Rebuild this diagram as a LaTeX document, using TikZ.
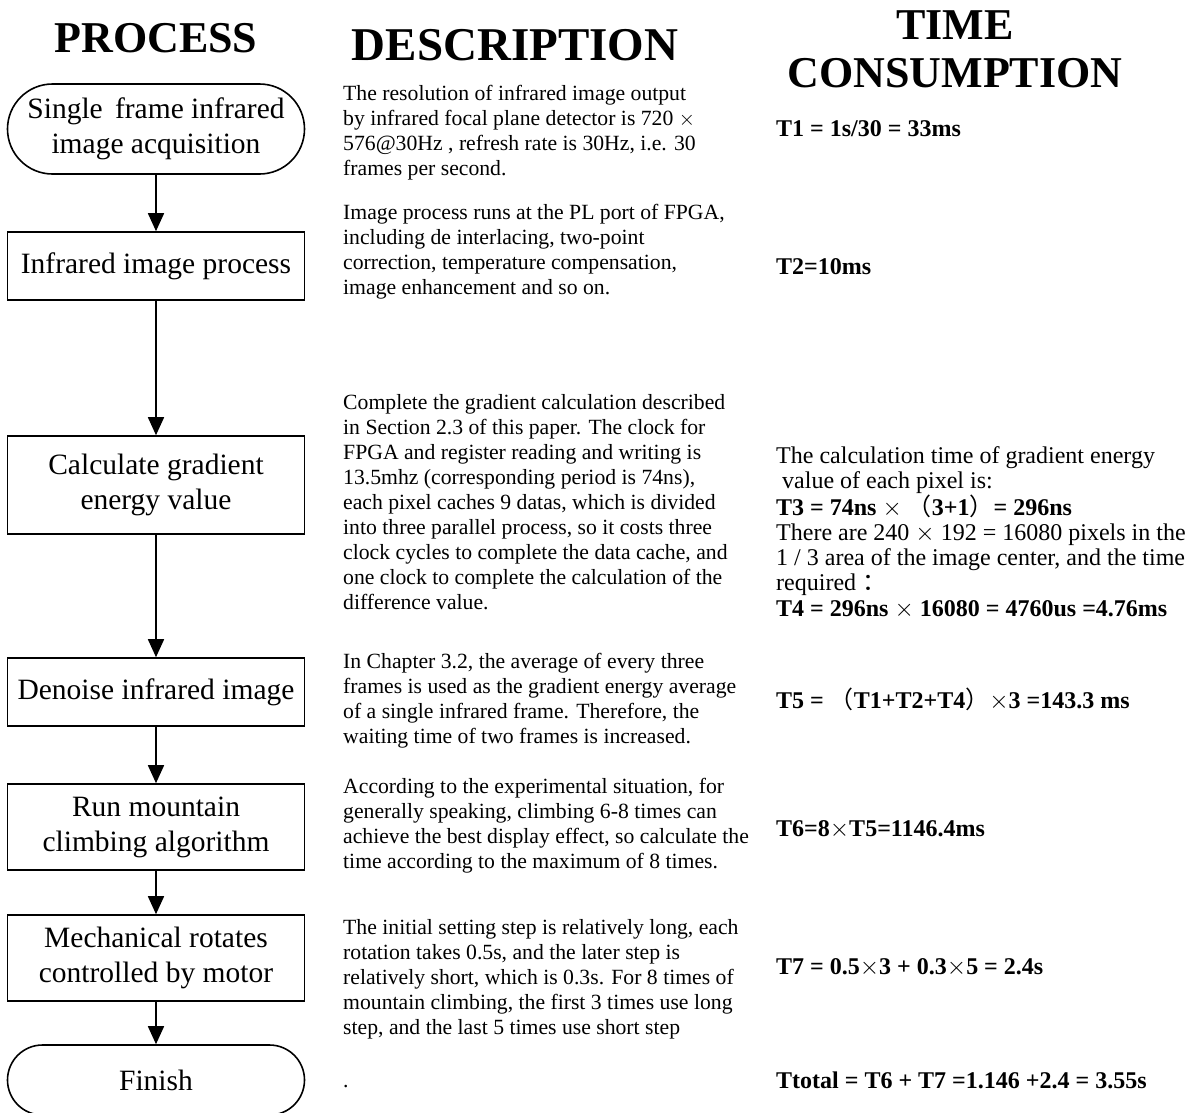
\documentclass[tikz,border=0pt]{standalone}
\usepackage{fontspec}
\setmainfont{Liberation Serif}
\newfontfamily\cjk{Noto Sans CJK SC}
\usetikzlibrary{arrows.meta}
\newcommand{\lp}{{\cjk\mdseries （}}
\newcommand{\rp}{{\cjk\mdseries ）}}
\begin{document}
\begin{tikzpicture}[x=1pt,y=-1pt,
  heading/.style={font=\bfseries\fontsize{44}{48}\selectfont, align=center, inner sep=0},
  procbox/.style={draw, line width=1.6, rectangle, minimum width=297, align=center, inner sep=0,
                  font=\fontsize{29.5}{35}\selectfont},
  termbox/.style={procbox, rounded corners=#1},
  desc/.style={anchor=north west, align=left, inner sep=0, font=\fontsize{21.7}{25}\selectfont},
  tcons/.style={anchor=north west, align=left, inner sep=0, font=\fontsize{24}{25.3}\selectfont},
  flow/.style={line width=1.6, -{Triangle[width=16,length=18]}}]
\useasboundingbox (0,0) rectangle (1192,1112);

% headings
\node[heading] (hproc) at (156,38) {PROCESS};
\node[heading, font=\bfseries\fontsize{47}{50}\selectfont] (hdesc) at (515,45) {DESCRIPTION};
\node[heading] (htime) at (955,49) {TIME\\CONSUMPTION};

% process column
\node[termbox=45, minimum height=90] (p1) at (156,129) {Single\, frame infrared\\image acquisition};
\node[procbox, minimum height=68] (p2) at (156,266) {Infrared image process};
\node[procbox, minimum height=98] (p3) at (156,485) {Calculate gradient\\energy value};
\node[procbox, minimum height=68] (p4) at (156,692) {Denoise infrared image};
\node[procbox, minimum height=86] (p5) at (156,827) {Run mountain\\climbing algorithm};
\node[procbox, minimum height=86] (p6) at (156,958) {Mechanical rotates\\controlled by motor};
\node[termbox=35, minimum height=70] (p7) at (156,1080) {Finish};

\draw[flow] (p1) -- (p2);
\draw[flow] (p2) -- (p3);
\draw[flow] (p3) -- (p4);
\draw[flow] (p4) -- (p5);
\draw[flow] (p5) -- (p6);
\draw[flow] (p6) -- (p7);

% description column
\node[desc] (d1) at (343,85) {The resolution of infrared image output\\by infrared focal plane detector is 720 $\times$\\576@30Hz , refresh rate is 30Hz, i.e. 30\\frames per second.};
\node[desc] (d2) at (343,204) {Image process runs at the PL port of FPGA,\\including de interlacing, two-point\\correction, temperature compensation,\\image enhancement and so on.};
\node[desc] (d3) at (343,394) {Complete the gradient calculation described\\in Section 2.3 of this paper. The clock for\\FPGA and register reading and writing is\\13.5mhz (corresponding period is 74ns),\\each pixel caches 9 datas, which is divided\\into three parallel process, so it costs three\\clock cycles to complete the data cache, and\\one clock to complete the calculation of the\\difference value.};
\node[desc] (d4) at (343,653) {In Chapter 3.2, the average of every three\\frames is used as the gradient energy average\\of a single infrared frame. Therefore, the\\waiting time of two frames is increased.};
\node[desc] (d5) at (343,778) {According to the experimental situation, for\\generally speaking, climbing 6-8 times can\\achieve the best display effect, so calculate the\\time according to the maximum of 8 times.};
\node[desc] (d6) at (343,919) {The initial setting step is relatively long, each\\rotation takes 0.5s, and the later step is\\relatively short, which is 0.3s. For 8 times of\\mountain climbing, the first 3 times use long\\step, and the last 5 times use short step};
\node[desc, anchor=base west] (d7) at (343,1087) {.};

% time consumption column
\node[tcons, anchor=base west] (t1) at (776,136) {\bfseries T1 = 1s/30 = 33ms};
\node[tcons, anchor=base west] (t2) at (776,274) {\bfseries T2=10ms};
\node[tcons] (t3) at (776,446) {The calculation time of gradient energy\\\ value of each pixel is:\\\textbf{T3 = 74ns $\times$ \lp3+1\rp= 296ns}\\There are 240 $\times$ 192 = 16080 pixels in the\\1 / 3 area of the image center, and the time\\required {\cjk ：}\\\textbf{T4 = 296ns $\times$ 16080 = 4760us =4.76ms}};
\node[tcons, anchor=base west] (t5) at (776,708) {\bfseries T5 = \lp T1+T2+T4\rp$\times$3 =143.3 ms};
\node[tcons, anchor=base west] (t6) at (776,836) {\bfseries T6=8$\times$T5=1146.4ms};
\node[tcons, anchor=base west] (t7) at (776,974) {\bfseries T7 = 0.5$\times$3 + 0.3$\times$5 = 2.4s};
\node[tcons, anchor=base west] (t8) at (776,1088) {\bfseries Ttotal = T6 + T7 =1.146 +2.4 = 3.55s};
\end{tikzpicture}
\end{document}
